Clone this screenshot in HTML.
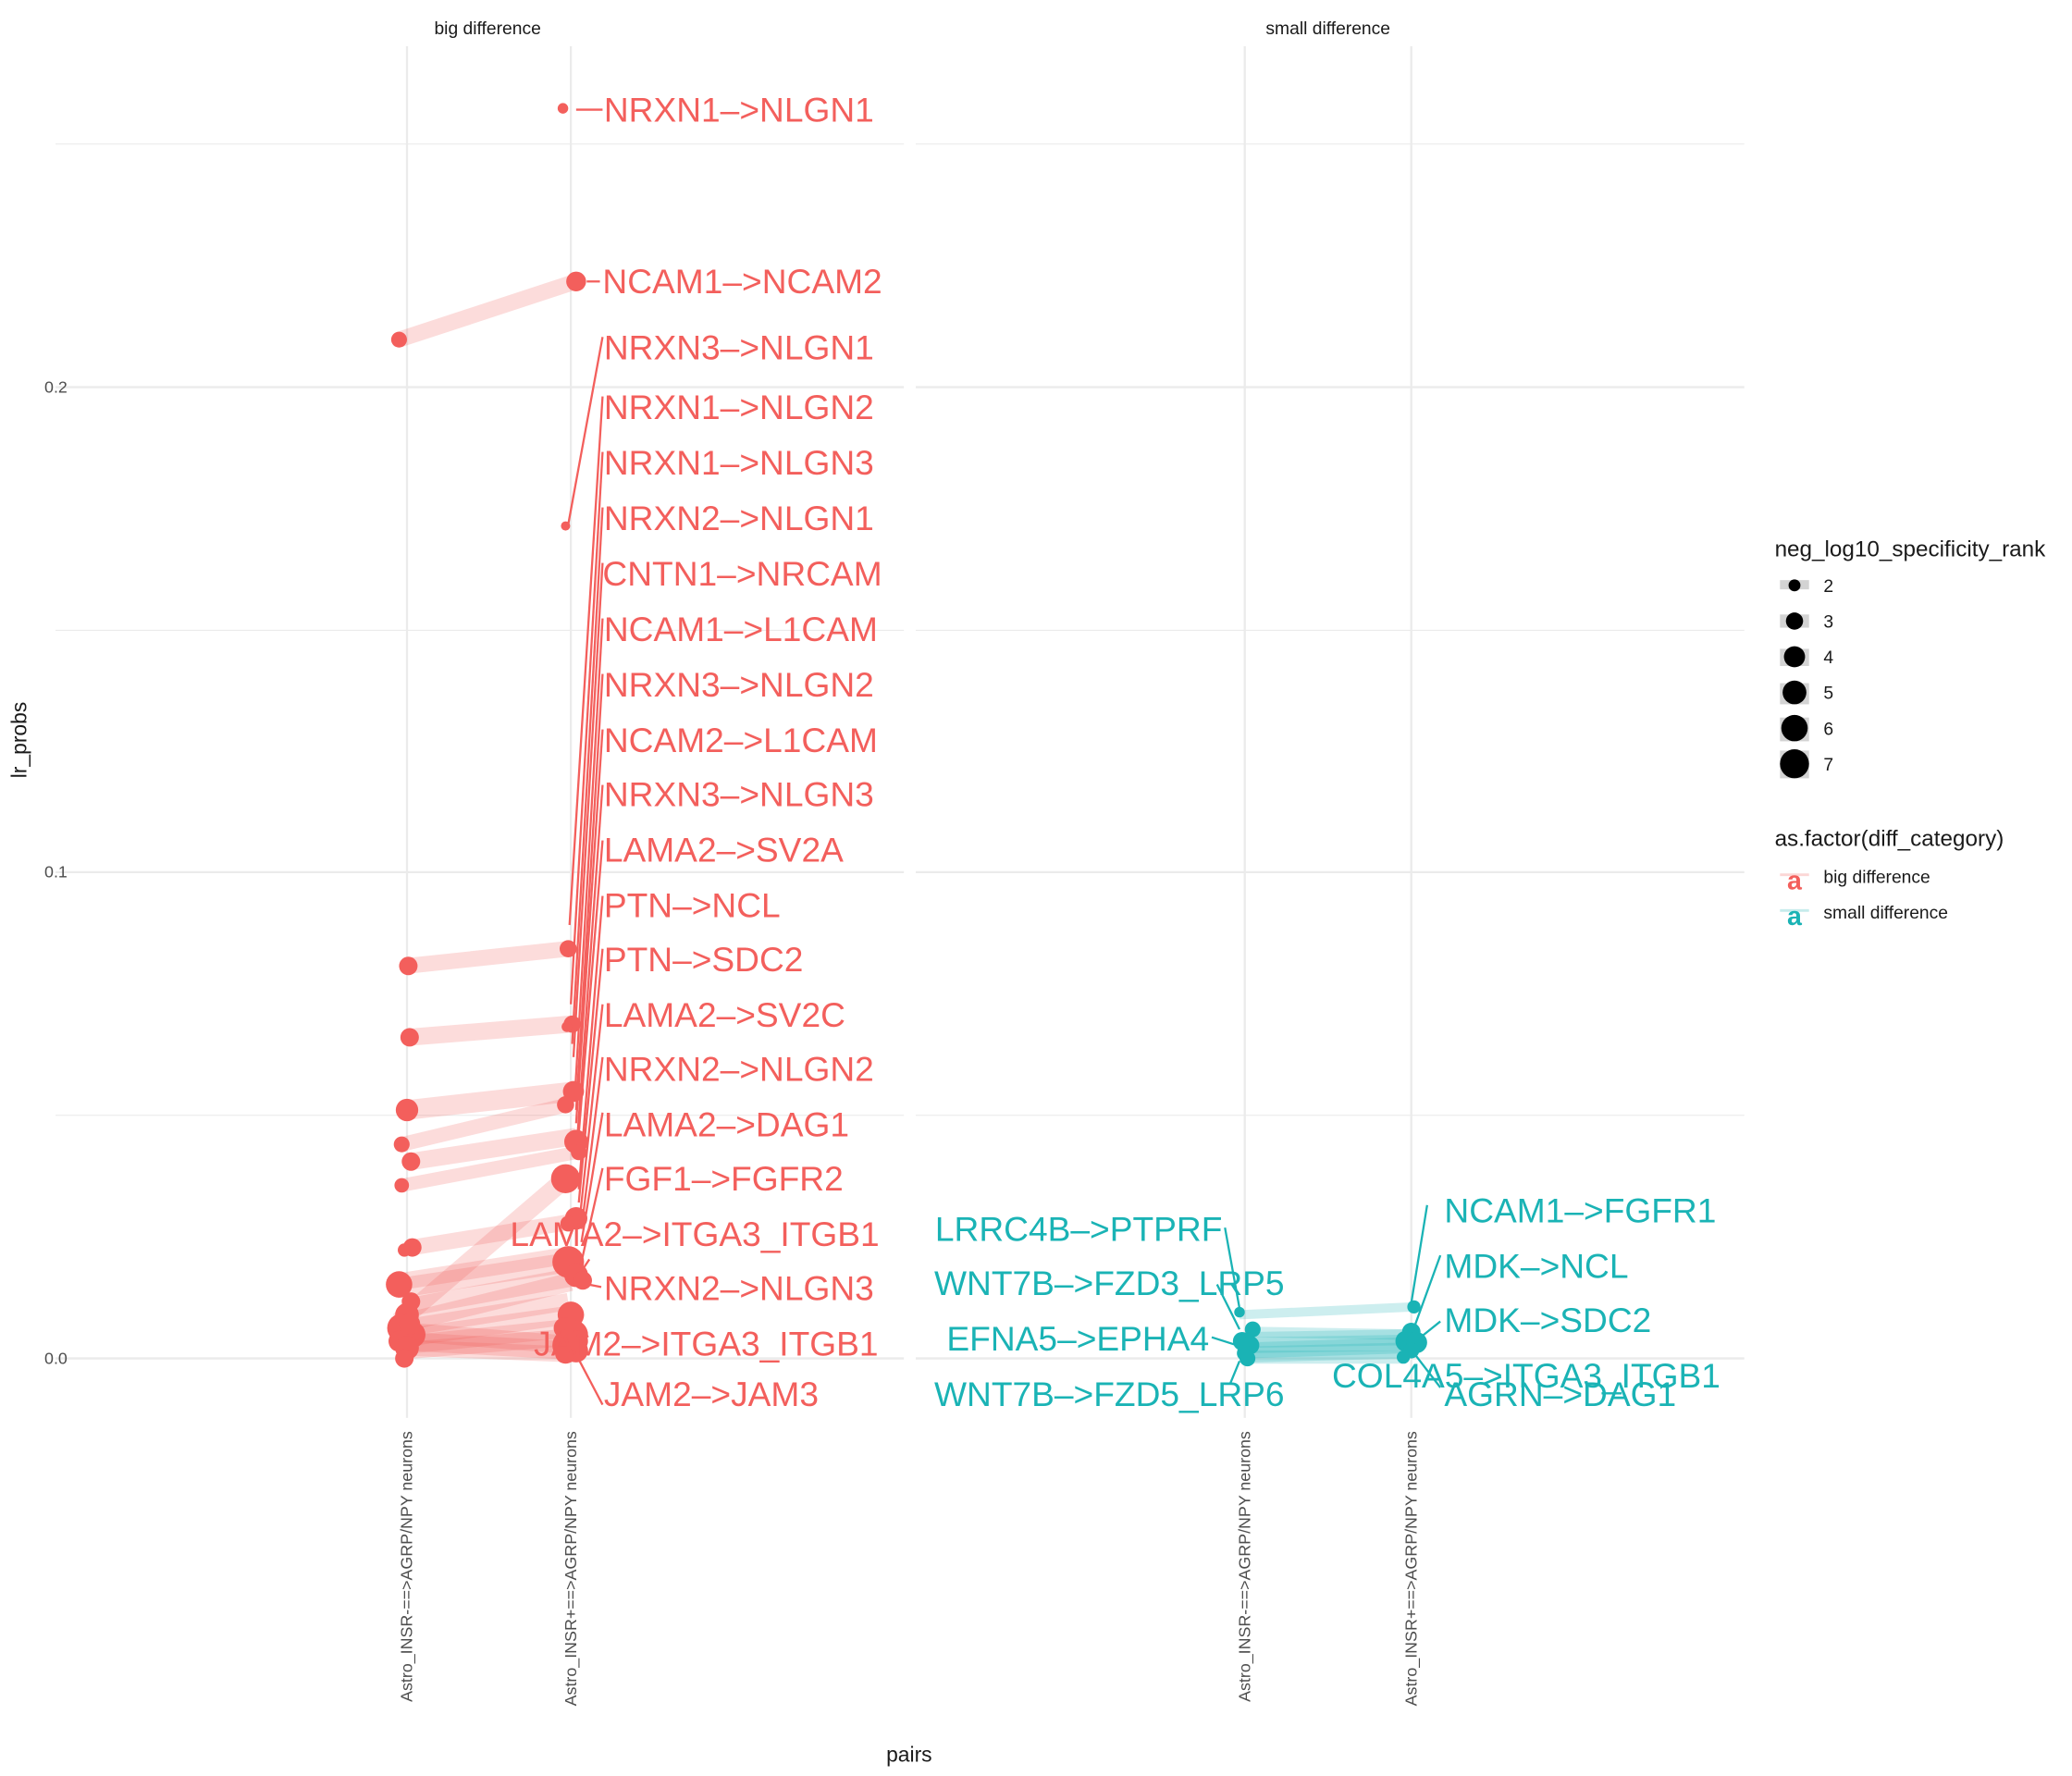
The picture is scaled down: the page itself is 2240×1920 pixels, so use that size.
<!DOCTYPE html>
<html><head><meta charset="utf-8"><style>
html,body{margin:0;padding:0;background:#fff}
svg{display:block}
text{font-family:"Liberation Sans",Arial,sans-serif}
</style></head><body>
<svg width="2240" height="1920" viewBox="0 0 1568 1344" xmlns="http://www.w3.org/2000/svg">
<rect width="1568" height="1344" fill="#fff"/>
<g stroke="#ebebeb" stroke-width="0.8">
<line x1="42" y1="109" x2="684" y2="109"/><line x1="42" y1="477" x2="684" y2="477"/><line x1="42" y1="844" x2="684" y2="844"/>
<line x1="693" y1="109" x2="1320" y2="109"/><line x1="693" y1="477" x2="1320" y2="477"/><line x1="693" y1="844" x2="1320" y2="844"/>
</g>
<g stroke="#ebebeb" stroke-width="1.6">
<line x1="42" y1="293" x2="684" y2="293"/><line x1="42" y1="660" x2="684" y2="660"/><line x1="42" y1="1028" x2="684" y2="1028"/>
<line x1="693" y1="293" x2="1320" y2="293"/><line x1="693" y1="660" x2="1320" y2="660"/><line x1="693" y1="1028" x2="1320" y2="1028"/>
<line x1="308" y1="35" x2="308" y2="1073"/><line x1="432" y1="35" x2="432" y2="1073"/>
<line x1="942" y1="35" x2="942" y2="1073"/><line x1="1068" y1="35" x2="1068" y2="1073"/>
</g>
<text x="369" y="26" font-size="13.5" text-anchor="middle" fill="#1a1a1a">big difference</text>
<text x="1005" y="26" font-size="13.5" text-anchor="middle" fill="#1a1a1a">small difference</text>
<g font-size="12.5" fill="#4d4d4d" text-anchor="end">
<text x="51" y="297">0.2</text><text x="51" y="664">0.1</text><text x="51" y="1032">0.0</text>
</g>
<text transform="translate(20,560) rotate(-90)" font-size="16" fill="#1a1a1a" text-anchor="middle">lr_probs</text>
<text x="688" y="1333" font-size="16" fill="#1a1a1a" text-anchor="middle">pairs</text>
<g font-size="12.5" fill="#4d4d4d" text-anchor="end">
<text transform="translate(312,1083) rotate(-90)">Astro_INSR-==&gt;AGRP/NPY neurons</text>
<text transform="translate(436,1083) rotate(-90)">Astro_INSR+==&gt;AGRP/NPY neurons</text>
<text transform="translate(946,1083) rotate(-90)">Astro_INSR-==&gt;AGRP/NPY neurons</text>
<text transform="translate(1072,1083) rotate(-90)">Astro_INSR+==&gt;AGRP/NPY neurons</text>
</g>
<g stroke="#F35F5C" stroke-opacity="0.22" stroke-linecap="butt">
<line x1="302" y1="257" x2="436" y2="213" stroke-width="12"/>
<line x1="308" y1="731" x2="430" y2="718" stroke-width="12"/>
<line x1="309" y1="785" x2="432" y2="775" stroke-width="13"/>
<line x1="308" y1="840" x2="434" y2="826" stroke-width="15"/>
<line x1="304" y1="866" x2="430" y2="836" stroke-width="11"/>
<line x1="311" y1="879" x2="436" y2="860" stroke-width="13"/>
<line x1="304" y1="897" x2="437" y2="872" stroke-width="10"/>
<line x1="302" y1="1000" x2="428" y2="892" stroke-width="14"/>
<line x1="312" y1="944" x2="436" y2="924" stroke-width="12"/>
<line x1="302" y1="970" x2="430" y2="950" stroke-width="13"/>
<line x1="300" y1="975" x2="432" y2="955" stroke-width="15"/>
<line x1="305" y1="990" x2="436" y2="966" stroke-width="14"/>
<line x1="310" y1="1000" x2="432" y2="970" stroke-width="14"/>
<line x1="306" y1="1005" x2="430" y2="985" stroke-width="13"/>
<line x1="308" y1="1012" x2="432" y2="995" stroke-width="14"/>
<line x1="304" y1="1018" x2="432" y2="1005" stroke-width="14"/>
<line x1="308" y1="1022" x2="430" y2="1012" stroke-width="13"/>
<line x1="310" y1="1008" x2="434" y2="1018" stroke-width="14"/>
<line x1="306" y1="1015" x2="432" y2="1022" stroke-width="14"/>
<line x1="308" y1="1020" x2="434" y2="1025" stroke-width="12"/>
</g>
<g stroke="#F35F5C" stroke-width="1.6" fill="none">
<line x1="436" y1="83" x2="456" y2="83"/>
<line x1="444" y1="213" x2="454" y2="213"/>
<line x1="430" y1="397" x2="456" y2="255"/>
<line x1="431" y1="700" x2="456" y2="300"/>
<line x1="432" y1="760" x2="456" y2="342"/>
<line x1="433" y1="790" x2="456" y2="384"/>
<line x1="434" y1="800" x2="456" y2="426"/>
<line x1="435" y1="830" x2="456" y2="468"/>
<line x1="436" y1="840" x2="456" y2="510"/>
<line x1="436" y1="850" x2="456" y2="552"/>
<line x1="437" y1="860" x2="456" y2="594"/>
<line x1="437" y1="870" x2="456" y2="636"/>
<line x1="438" y1="900" x2="456" y2="678"/>
<line x1="438" y1="910" x2="456" y2="718"/>
<line x1="439" y1="920" x2="456" y2="760"/>
<line x1="440" y1="930" x2="456" y2="800"/>
<line x1="440" y1="940" x2="456" y2="842"/>
<line x1="440" y1="955" x2="456" y2="884"/>
<line x1="438" y1="965" x2="446" y2="953"/>
<line x1="440" y1="971" x2="455" y2="974"/>
<line x1="435" y1="996" x2="445" y2="1012"/>
<line x1="436" y1="1025" x2="456" y2="1063"/>
</g>
<g fill="#F35F5C">
<circle cx="426" cy="82" r="4"/>
<circle cx="436" cy="213" r="7.5"/>
<circle cx="302" cy="257" r="6"/>
<circle cx="428" cy="398" r="3.5"/>
<circle cx="309" cy="731" r="7"/><circle cx="430" cy="718" r="6.5"/><circle cx="433" cy="775" r="6.5"/><circle cx="429" cy="777" r="4"/>
<circle cx="310" cy="785" r="7"/>
<circle cx="308" cy="840" r="8.5"/><circle cx="434" cy="826" r="8"/><circle cx="428" cy="836" r="6.5"/>
<circle cx="304" cy="866" r="6"/><circle cx="311" cy="879" r="7"/><circle cx="304" cy="897" r="5.5"/>
<circle cx="436" cy="864" r="9"/><circle cx="438" cy="872" r="6"/>
<circle cx="428" cy="892" r="11"/>
<circle cx="436" cy="922" r="8.5"/><circle cx="430" cy="926" r="6"/>
<circle cx="312" cy="944" r="7"/><circle cx="306" cy="946" r="5"/>
<circle cx="430" cy="955" r="12"/><circle cx="436" cy="965" r="9"/><circle cx="441" cy="969" r="7"/>
<circle cx="302" cy="972" r="10"/><circle cx="311" cy="985" r="7"/>
<circle cx="308" cy="995" r="9"/><circle cx="304" cy="1005" r="11"/><circle cx="312" cy="1010" r="10"/>
<circle cx="302" cy="1015" r="8"/><circle cx="308" cy="1020" r="9"/><circle cx="306" cy="1028" r="7"/><circle cx="310" cy="1002" r="8"/>
<circle cx="432" cy="995" r="10"/><circle cx="427" cy="1005" r="8"/><circle cx="434" cy="1010" r="11"/>
<circle cx="430" cy="1018" r="12"/><circle cx="436" cy="1022" r="9"/><circle cx="428" cy="1024" r="8"/><circle cx="437" cy="1015" r="8"/>
</g>
<g font-size="26" fill="#F35F5C">
<text x="457" y="92">NRXN1–&gt;NLGN1</text>
<text x="456" y="222">NCAM1–&gt;NCAM2</text>
<text x="457" y="272">NRXN3–&gt;NLGN1</text>
<text x="457" y="317">NRXN1–&gt;NLGN2</text>
<text x="457" y="359">NRXN1–&gt;NLGN3</text>
<text x="457" y="401">NRXN2–&gt;NLGN1</text>
<text x="456" y="443">CNTN1–&gt;NRCAM</text>
<text x="457" y="485">NCAM1–&gt;L1CAM</text>
<text x="457" y="527">NRXN3–&gt;NLGN2</text>
<text x="457" y="569">NCAM2–&gt;L1CAM</text>
<text x="457" y="610">NRXN3–&gt;NLGN3</text>
<text x="457" y="652">LAMA2–&gt;SV2A</text>
<text x="457" y="694">PTN–&gt;NCL</text>
<text x="457" y="735">PTN–&gt;SDC2</text>
<text x="457" y="777">LAMA2–&gt;SV2C</text>
<text x="457" y="818">NRXN2–&gt;NLGN2</text>
<text x="457" y="860">LAMA2–&gt;DAG1</text>
<text x="457" y="901">FGF1–&gt;FGFR2</text>
<text x="386" y="943">LAMA2–&gt;ITGA3_ITGB1</text>
<text x="457" y="984">NRXN2–&gt;NLGN3</text>
<text x="404" y="1026">JAM2–&gt;ITGA3_ITGB1</text>
<text x="457" y="1064">JAM2–&gt;JAM3</text>
</g>
<g stroke="#1AB3B5" stroke-opacity="0.22">
<line x1="938" y1="995" x2="1070" y2="989" stroke-width="7"/>
<line x1="946" y1="1008" x2="1068" y2="1010" stroke-width="8"/>
<line x1="944" y1="1014" x2="1066" y2="1012" stroke-width="12"/>
<line x1="944" y1="1018" x2="1070" y2="1016" stroke-width="12"/>
<line x1="942" y1="1022" x2="1068" y2="1018" stroke-width="12"/>
<line x1="944" y1="1025" x2="1064" y2="1022" stroke-width="12"/>
<line x1="942" y1="1027" x2="1062" y2="1027" stroke-width="10"/>
</g>
<g stroke="#1AB3B5" stroke-width="1.6">
<line x1="927" y1="929" x2="938" y2="990"/>
<line x1="921" y1="972" x2="938" y2="1006"/>
<line x1="917" y1="1012" x2="936" y2="1018"/>
<line x1="931" y1="1047" x2="938" y2="1030"/>
<line x1="1068" y1="986" x2="1080" y2="912"/>
<line x1="1070" y1="1005" x2="1090" y2="950"/>
<line x1="1075" y1="1012" x2="1090" y2="1000"/>
<line x1="1070" y1="1024" x2="1090" y2="1050"/>
</g>
<g fill="#1AB3B5">
<circle cx="938" cy="993" r="4"/>
<circle cx="948" cy="1006" r="6"/><circle cx="940" cy="1015" r="7"/><circle cx="946" cy="1018" r="7"/><circle cx="942" cy="1024" r="6"/><circle cx="944" cy="1028" r="6"/>
<circle cx="1070" cy="989" r="5"/>
<circle cx="1068" cy="1008" r="7"/><circle cx="1064" cy="1015" r="8"/><circle cx="1072" cy="1016" r="8"/><circle cx="1068" cy="1022" r="6"/><circle cx="1062" cy="1027" r="5"/>
</g>
<g font-size="26" fill="#1AB3B5">
<text x="925" y="939" text-anchor="end">LRRC4B–&gt;PTPRF</text>
<text x="972" y="980" text-anchor="end">WNT7B–&gt;FZD3_LRP5</text>
<text x="915" y="1022" text-anchor="end">EFNA5–&gt;EPHA4</text>
<text x="972" y="1064" text-anchor="end">WNT7B–&gt;FZD5_LRP6</text>
<text x="1093" y="925">NCAM1–&gt;FGFR1</text>
<text x="1093" y="967">MDK–&gt;NCL</text>
<text x="1093" y="1008">MDK–&gt;SDC2</text>
<text x="1008" y="1050">COL4A5–&gt;ITGA3_ITGB1</text>
<text x="1093" y="1064">AGRN–&gt;DAG1</text>
</g>
<text x="1343" y="421" font-size="17" fill="#1a1a1a">neg_log10_specificity_rank</text>
<g fill="#d3d3d3">
<rect x="1347" y="439" width="22" height="7"/><rect x="1347" y="465" width="22" height="10"/><rect x="1347" y="491" width="22" height="13"/>
<rect x="1347" y="517" width="22" height="16"/><rect x="1347" y="543" width="22" height="18"/><rect x="1347" y="568" width="22" height="21"/>
</g>
<g fill="#000">
<circle cx="1358" cy="443" r="4.5"/><circle cx="1358" cy="470" r="6.5"/><circle cx="1358" cy="497" r="8"/>
<circle cx="1358" cy="524" r="9"/><circle cx="1358" cy="551" r="10"/><circle cx="1358" cy="578" r="11"/>
</g>
<g font-size="13.5" fill="#1a1a1a">
<text x="1380" y="448">2</text><text x="1380" y="475">3</text><text x="1380" y="502">4</text>
<text x="1380" y="529">5</text><text x="1380" y="556">6</text><text x="1380" y="583">7</text>
</g>
<text x="1343" y="640" font-size="17" fill="#1a1a1a">as.factor(diff_category)</text>
<line x1="1347" y1="662" x2="1369" y2="662" stroke="#F35F5C" stroke-opacity="0.25" stroke-width="2"/>
<line x1="1347" y1="689" x2="1369" y2="689" stroke="#1AB3B5" stroke-opacity="0.25" stroke-width="2"/>
<text x="1358" y="673" font-size="20" font-weight="bold" fill="#F35F5C" text-anchor="middle">a</text>
<text x="1358" y="700" font-size="20" font-weight="bold" fill="#1AB3B5" text-anchor="middle">a</text>
<text x="1380" y="668" font-size="13.5" fill="#1a1a1a">big difference</text>
<text x="1380" y="695" font-size="13.5" fill="#1a1a1a">small difference</text>
</svg>
</body></html>
